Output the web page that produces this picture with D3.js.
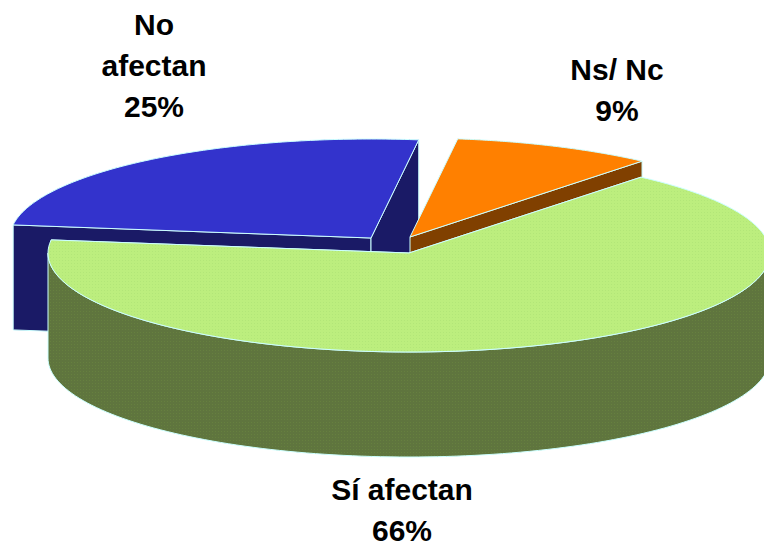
<!DOCTYPE html>
<html><head><meta charset="utf-8">
<style>html,body{margin:0;padding:0;background:#fff}svg{display:block}text{font-family:"Liberation Sans",Arial,sans-serif;font-weight:bold;font-size:30px;fill:#000;text-anchor:middle}</style>
<script src="https://cdn.jsdelivr.net/npm/d3@7"></script>
</head><body><div id="c"></div>
<script>
const categories = ["Sí afectan", "No afectan", "Ns/ Nc"];
const values = [66, 25, 9];
const topColors = ["#bcee7e", "#3333cc", "#ff8000"];
const sideColors = ["#5f753e", "#1a1a66", "#804000"];
const labelLines = [["Sí afectan", "66%"], ["No", "afectan", "25%"], ["Ns/ Nc", "9%"]];
const W = 764, H = 546;
const rx = 361, ry = 99, depth = 105, cx = 409, cy = 253;
const firstAngle = 40 * Math.PI / 180;
const offsets = [[0, 0], [-38, -15], [1, -16]];
const labelPos = [[402, 500], [154, 35], [617, 80]];
const lineH = 41;
const svg = d3.select("#c").append("svg").attr("width", W).attr("height", H);
const defs = svg.append("defs");
function dots(id, base, dot) {
  const p = defs.append("pattern").attr("id", id).attr("width", 3).attr("height", 3).attr("patternUnits", "userSpaceOnUse");
  p.append("rect").attr("width", 3).attr("height", 3).attr("fill", base);
  p.append("rect").attr("x", 1).attr("y", 1).attr("width", 1).attr("height", 1).attr("fill", dot);
}
dots("gt", "#bcee7e", "#b2e678");
dots("gs", "#5f753e", "#66803f");
const fillTop = ["url(#gt)", topColors[1], topColors[2]];
const fillSide = ["url(#gs)", sideColors[1], sideColors[2]];
const stroke = "#ccffff";
const pie = d3.pie().sort(null).startAngle(firstAngle).endAngle(firstAngle + 2 * Math.PI);
const arcs = pie(values);
const X = a => rx * Math.sin(a), Y = a => -ry * Math.cos(a);
function ellipseArc(a0, a1) {
  const n = 120, pts = [];
  for (let i = 0; i <= n; i++) { const a = a0 + (a1 - a0) * i / n; pts.push([X(a), Y(a)]); }
  return pts;
}
const line = d3.line();
function wall(pts) {
  const down = pts.slice().reverse().map(p => [p[0], p[1] + depth]);
  return line(pts.concat(down)) + "Z";
}
// draw order: blue, orange, green
[1, 2, 0].forEach(i => {
  const d = arcs[i];
  const g = svg.append("g").attr("transform", `translate(${cx + offsets[i][0]},${cy + offsets[i][1]})`);
  const sw = { fill: fillSide[i], stroke: stroke, "stroke-width": 1, "stroke-linejoin": "round" };
  const apply = (s, o) => { for (const k in o) s.attr(k, o[k]); return s; };
  // cut faces at start and end
  [d.startAngle, d.endAngle].forEach(a => {
    if (i === 2 && a === d.startAngle) return;
    apply(g.append("path").attr("d", wall([[0, 0], [X(a), Y(a)]])), sw);
  });
  // outer curved wall (front part only: angles between 90° and 270°)
  const lo = Math.max(d.startAngle, Math.PI / 2), hi = Math.min(d.endAngle, 3 * Math.PI / 2);
  if (hi > lo) apply(g.append("path").attr("d", wall(ellipseArc(lo, hi))), sw);
  // top face
  g.append("path")
    .attr("d", line([[0, 0], ...ellipseArc(d.startAngle, d.endAngle)]) + "Z")
    .attr("fill", fillTop[i]).attr("stroke", stroke).attr("stroke-width", 1).attr("stroke-linejoin", "round");
});
labelLines.forEach((ls, i) => {
  const t = svg.append("text");
  ls.forEach((s, j) => t.append("tspan").attr("x", labelPos[i][0]).attr("y", labelPos[i][1] + j * lineH).text(s));
});
</script></body></html>
